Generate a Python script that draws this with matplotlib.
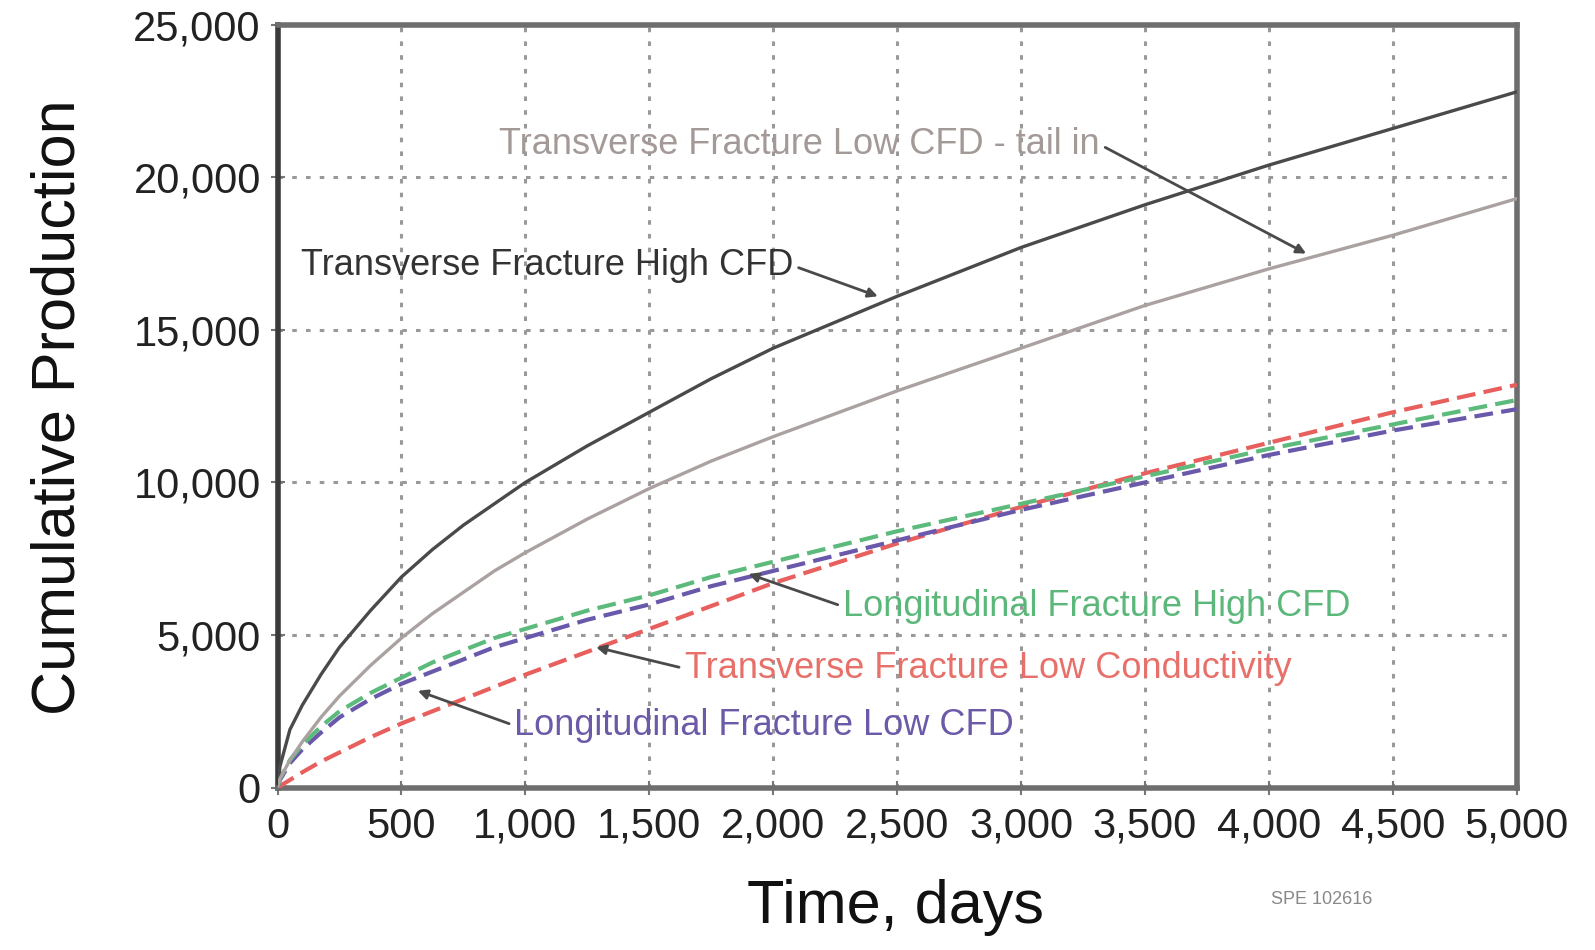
import matplotlib
matplotlib.use("Agg")
import matplotlib.pyplot as plt
from matplotlib.ticker import FuncFormatter

plt.rcParams['font.family'] = ['Liberation Sans', 'DejaVu Sans']

# time, days
days = [0, 10, 50, 100, 175, 250, 375, 500, 625, 750, 875, 1000, 1250, 1500, 1750,
        2000, 2500, 3000, 3500, 4000, 4500, 5000]

# cumulative production
trans_high_cfd = [0, 700, 1900, 2700, 3700, 4600, 5800, 6900, 7800, 8600, 9300, 10000, 11200,
                  12300, 13400, 14400, 16100, 17700, 19100, 20400, 21600, 22800]
trans_low_cfd_tail = [0, 300, 900, 1500, 2300, 3000, 4000, 4900, 5700, 6400, 7100, 7700, 8800,
                      9800, 10700, 11500, 13000, 14400, 15800, 17000, 18100, 19300]
long_high_cfd = [0, 300, 900, 1400, 2000, 2500, 3100, 3600, 4100, 4500, 4900, 5200, 5800,
                 6300, 6900, 7400, 8400, 9300, 10200, 11100, 11900, 12700]
long_low_cfd = [0, 250, 800, 1250, 1800, 2300, 2900, 3400, 3800, 4200, 4600, 4900, 5500,
                6000, 6600, 7100, 8100, 9100, 10000, 10900, 11700, 12400]
trans_low_cond = [0, 50, 250, 500, 850, 1150, 1650, 2100, 2500, 2900, 3300, 3700, 4450,
                  5200, 5950, 6700, 8000, 9200, 10300, 11300, 12300, 13200]

x_ticks = [0, 500, 1000, 1500, 2000, 2500, 3000, 3500, 4000, 4500, 5000]
y_ticks = [0, 5000, 10000, 15000, 20000, 25000]

# label text, text position, arrow tip
labels = [
    ("Transverse Fracture Low CFD - tail in", (895, 21070), (4150, 17500), "#a39a98", "right"),
    ("Transverse Fracture High CFD", (94, 17100), (2422, 16100), "#333333", "right"),
    ("Longitudinal Fracture High CFD", (2282, 5930), (1900, 7000), "#5cb87a", "left"),
    ("Transverse Fracture Low Conductivity", (1642, 3900), (1285, 4600), "#e8706a", "left"),
    ("Longitudinal Fracture Low CFD", (956, 2030), (566, 3170), "#6c5aa8", "left"),
]

fig = plt.figure(figsize=(15.95, 9.5), dpi=100)
ax = fig.add_axes([0.174, 0.171, 0.777, 0.803])

ax.plot(days, trans_high_cfd, color="#4a4a4a", lw=2.4, zorder=5)
ax.plot(days, trans_low_cfd_tail, color="#aaa2a0", lw=2.4, zorder=5)
ax.plot(days, trans_low_cond, color="#e8605e", lw=3, ls=(0, (4.5, 2)), zorder=4)
ax.plot(days, long_low_cfd, color="#6a58aa", lw=3, ls=(0, (4.5, 2)), zorder=4)
ax.plot(days, long_high_cfd, color="#5cbb7c", lw=3, ls=(0, (4.5, 2)), zorder=4)

ax.set_xlim(0, 5000)
ax.set_ylim(0, 25000)
ax.set_xticks(x_ticks)
ax.set_yticks(y_ticks)
fmt = FuncFormatter(lambda v, p: f"{int(v):,}")
ax.xaxis.set_major_formatter(fmt)
ax.yaxis.set_major_formatter(fmt)
ax.tick_params(axis='both', labelsize=30, colors="#777777", labelcolor="#222222",
               direction='inout', length=10, width=1.5)
ax.tick_params(axis='x', pad=9)
ax.tick_params(axis='y', pad=7)

ax.grid(True, color="#999999", lw=2.2, ls=(0, (1.5, 3)))
for side in ax.spines:
    ax.spines[side].set_color("#6e6e6e")
    ax.spines[side].set_linewidth(4)
ax.spines['left'].set_color("#3a3a3a")

for text, xy_text, xy_tip, col, side in labels:
    rel = (1, 0.5) if side == "right" else (0, 0.5)
    ax.annotate(text, xy=xy_tip, xytext=xy_text, color=col, fontsize=26,
                ha='left', va='center', zorder=6,
                arrowprops=dict(arrowstyle='-|>', color="#4a4a4a", lw=2,
                                mutation_scale=14, shrinkA=2, shrinkB=0,
                                relpos=rel))

fig.text(59 / 1595, 1 - 407 / 950, "Cumulative Production", rotation=90,
         fontsize=44, ha='center', va='center', color="#111111")
fig.text(895 / 1595, 1 - 908 / 950, "Time, days", fontsize=44,
         ha='center', va='center', color="#111111")
fig.text(1322 / 1595, 1 - 900 / 950, "SPE 102616", fontsize=13,
         ha='center', va='center', color="#888888")

fig.savefig("out.png", dpi=100)
